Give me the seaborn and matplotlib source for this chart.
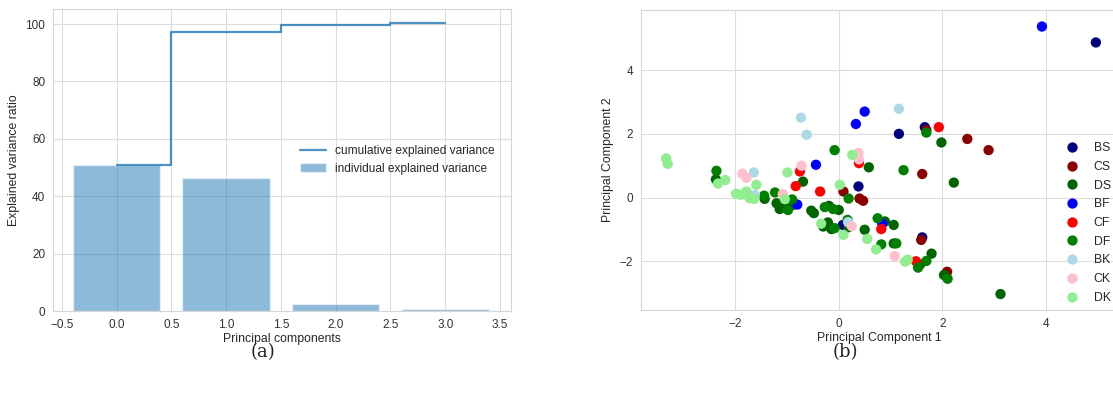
import numpy as np
import pandas as pd
import matplotlib
matplotlib.use("Agg")
import matplotlib.pyplot as plt
import seaborn as sns

# ---- explained variance per principal component (%) ----
components = [0, 1, 2, 3]
individual_var = [51.0, 46.2, 2.6, 0.6]

# ---- PCA projections per class ----
group_names = ["BS", "CS", "DS", "BF", "CF", "DF", "BK", "CK", "DK"]
group_colors = ["navy", "darkred", "darkgreen", "blue", "red", "green",
                "lightblue", "pink", "lightgreen"]

pc1_BS = [4.96, 1.16, 1.66, 0.38, 1.61, 0.08]
pc2_BS = [4.87, 2.00, 2.21, 0.35, -1.25, -0.86]

pc1_CS = [2.48, 2.89, 1.61, 0.09, 0.40, 0.47, 1.59, 2.09, -0.15, 1.69]
pc2_CS = [1.84, 1.49, 0.74, 0.19, -0.03, -0.10, -1.33, -2.33, -0.96, 2.12]

pc1_DS = [3.12, 2.22, 1.98, 0.58, -0.69, -2.37, -1.43, -1.20, -1.14,
          -0.88, -0.53, -0.48, -0.19, 0.00, -0.21, -0.14, -0.30, 0.19,
          0.50, 0.89, 1.06, 1.06, 1.79, 1.57, 2.03, -1.05]
pc2_DS = [-3.03, 0.47, 1.73, 0.95, 0.50, 0.57, -0.04, -0.18, -0.36,
          -0.23, -0.41, -0.49, -0.26, -0.39, -0.78, -0.99, -0.91, -0.93,
          -1.01, -0.75, -0.86, -1.44, -1.76, -2.10, -2.43, -0.30]

pc1_BF = [3.92, 0.50, 0.33, -0.44, -0.80, 0.84]
pc2_BF = [5.37, 2.70, 2.31, 1.03, -0.22, -0.82]

pc1_CF = [1.93, 0.39, -0.75, -0.83, -0.36, 0.82, 1.49]
pc2_CF = [2.21, 1.08, 0.82, 0.36, 0.19, -0.99, -2.00]

pc1_DF = [1.69, 1.25, -0.08, -2.36, -1.44, -1.23, -0.98, -0.90, -0.27,
          -0.11, 0.19, -0.08, 0.17, 0.75, 0.82, 1.11, 1.69, 1.53, 2.10]
pc2_DF = [2.04, 0.86, 1.49, 0.84, 0.06, 0.16, -0.39, -0.06, -0.30,
          -0.36, -0.03, -0.96, -0.70, -0.65, -1.47, -1.44, -1.99, -2.20, -2.55]

pc1_BK = [-0.73, -0.62, 1.16, -1.64, 0.18, -1.62]
pc2_BK = [2.51, 1.97, 2.79, 0.79, -0.77, 0.08]

pc1_CK = [-1.86, -1.78, -0.72, 0.38, 0.39, -1.08, 0.25, 1.08]
pc2_CK = [0.75, 0.62, 1.00, 1.40, 1.20, 0.11, -0.90, -1.84]

pc1_DK = [-3.33, -3.30, -2.33, -2.19, -1.59, -0.99, 0.26, 0.02, -1.98,
          -1.89, -1.78, -1.72, -1.63, -1.04, -0.34, 0.09, 0.55, 0.72,
          1.28, 1.33]
pc2_DK = [1.23, 1.06, 0.44, 0.55, 0.40, 0.79, 1.34, 0.40, 0.12, 0.09,
          0.19, -0.02, -0.04, -0.05, -0.82, -1.17, -1.30, -1.63, -2.01,
          -1.95]

pc1 = [pc1_BS, pc1_CS, pc1_DS, pc1_BF, pc1_CF, pc1_DF, pc1_BK, pc1_CK, pc1_DK]
pc2 = [pc2_BS, pc2_CS, pc2_DS, pc2_BF, pc2_CF, pc2_DF, pc2_BK, pc2_CK, pc2_DK]

frames = [pd.DataFrame({"PC1": a, "PC2": b, "target": name})
          for name, a, b in zip(group_names, pc1, pc2)]
scores = pd.DataFrame(pd.concat(frames, ignore_index=True))

sns.set_style("whitegrid")
plt.rcParams["font.family"] = ["Liberation Sans", "DejaVu Sans"]
plt.rcParams["axes.edgecolor"] = "#d6d6d6"
plt.rcParams["grid.color"] = "#dcdcdc"

fig = plt.figure(figsize=(11.13, 3.96), dpi=100)

# ---- (a) explained variance ----
ax1 = fig.add_axes([0.0476, 0.2146, 0.4115, 0.7624])
sns.barplot(x=components, y=individual_var, native_scale=True, ax=ax1,
            color="#1f77b4", saturation=1, alpha=0.5, width=0.8,
            label="individual explained variance")
sns.lineplot(x=components, y=np.cumsum(individual_var), ax=ax1,
             drawstyle="steps-mid", color="#1f77b4", alpha=0.8, linewidth=1.6,
             label="cumulative explained variance")
ax1.set_xlim(-0.58, 3.6)
ax1.set_ylim(0, 105.2)
ax1.set_xticks(np.arange(-0.5, 3.51, 0.5))
ax1.set_yticks(np.arange(0, 101, 20))
ax1.set_xlabel("Principal components", fontsize=8.8, labelpad=2)
ax1.set_ylabel("Explained variance ratio", fontsize=8.8, labelpad=4)
ax1.tick_params(labelsize=8.5, colors="#333333", pad=2)
h, l = ax1.get_legend_handles_labels()
order = [l.index("cumulative explained variance"),
         l.index("individual explained variance")]
ax1.legend([h[i] for i in order], [l[i] for i in order], loc="center left",
           bbox_to_anchor=(0.515, 0.5), frameon=False, fontsize=8.6,
           handlelength=2.2, labelspacing=0.45)

# ---- (b) projection onto the first two components ----
ax2 = fig.add_axes([0.5757, 0.2172, 0.428, 0.7576])
sns.scatterplot(data=scores, x="PC1", y="PC2", hue="target",
                hue_order=group_names, palette=dict(zip(group_names, group_colors)),
                s=55, linewidth=0, alpha=1, ax=ax2)
ax2.set_xlim(-3.82, 5.37)
ax2.set_ylim(-3.53, 5.89)
ax2.set_xticks([-2, 0, 2, 4])
ax2.set_yticks([-2, 0, 2, 4])
ax2.set_xlabel("Principal Component 1", fontsize=8.8, labelpad=2)
ax2.set_ylabel("Principal Component 2", fontsize=8.8, labelpad=4)
ax2.tick_params(labelsize=8.5, colors="#333333", pad=2)
h2, l2 = ax2.get_legend_handles_labels()
ax2.legend(h2, l2, loc="center left", bbox_to_anchor=(0.952, 0.437),
           bbox_transform=fig.transFigure, frameon=False, fontsize=8.8,
           labelspacing=0.55, handletextpad=0.8, borderaxespad=0,
           borderpad=0)

# ---- panel captions ----
fig.text(0.2363, 0.11, "(a)", ha="center", va="center",
         fontsize=13, family="DejaVu Serif")
fig.text(0.7592, 0.11, "(b)", ha="center", va="center",
         fontsize=13, family="DejaVu Serif")

fig.savefig("out.png", dpi=100)
